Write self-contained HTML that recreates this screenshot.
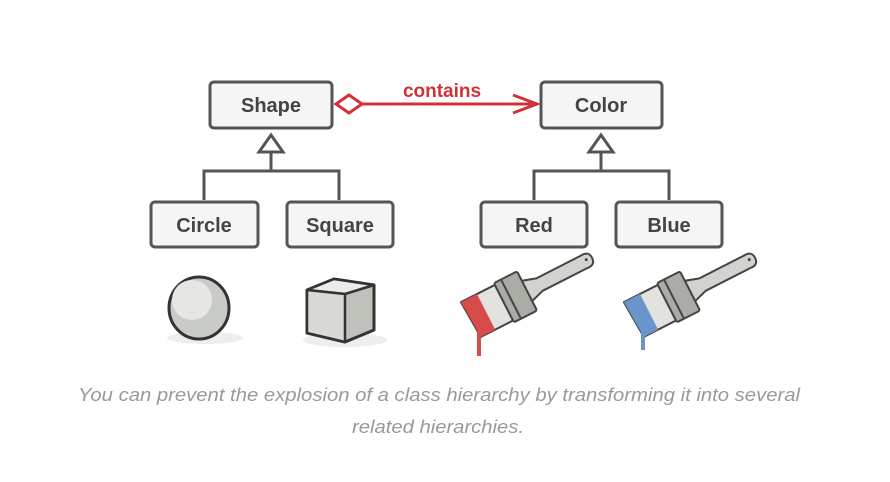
<!DOCTYPE html>
<html><head><meta charset="utf-8"><style>
html,body{margin:0;padding:0;background:#fff;width:890px;height:482px;overflow:hidden}
svg{display:block}
.b{fill:#f5f5f5;stroke:#555;stroke-width:3}
.t{font-family:"Liberation Sans",sans-serif;font-weight:bold;font-size:20px;fill:#444;text-anchor:middle}
.l{stroke:#555;stroke-width:3;fill:none}
.cap{font-family:"Liberation Sans",sans-serif;font-style:italic;font-size:18px;fill:#999;text-anchor:middle}
</style></head><body>
<svg width="890" height="482" viewBox="0 0 890 482">
<defs>
<g id="brush" stroke="#444" stroke-width="2" stroke-linejoin="round">
<path d="M62 -12L78 -7H128Q137 -8 137 0Q137 8 128 7H78L62 12Z" fill="#d2d3cf"/>
<circle cx="131" cy="-1" r="1.5" fill="#444" stroke="none"/>
<rect x="38" y="-22" width="26" height="44" rx="2" fill="#aaaca6"/>
<line x1="46" y1="-21" x2="46" y2="21"/>
<path d="M0 -20H38V20H2Z" fill="#e2e2df"/>
</g>
</defs>
<!-- connectors -->
<path class="l" d="M271 152V171M204 200V171H339V200"/>
<polygon points="271,135 259,152 283,152" fill="#fff" stroke="#555" stroke-width="3"/>
<path class="l" d="M601 152V171M534 200V171H669V200"/>
<polygon points="601,135 589,152 613,152" fill="#fff" stroke="#555" stroke-width="3"/>
<!-- boxes -->
<rect class="b" x="210" y="82" width="122" height="46" rx="4"/><text class="t" x="271" y="112">Shape</text>
<rect class="b" x="541" y="82" width="121" height="46" rx="4"/><text class="t" x="601" y="112">Color</text>
<rect class="b" x="151" y="202" width="107" height="45" rx="4"/><text class="t" x="204" y="232">Circle</text>
<rect class="b" x="287" y="202" width="106" height="45" rx="4"/><text class="t" x="340" y="232">Square</text>
<rect class="b" x="481" y="202" width="106" height="45" rx="4"/><text class="t" x="534" y="232">Red</text>
<rect class="b" x="616" y="202" width="106" height="45" rx="4"/><text class="t" x="669" y="232">Blue</text>
<!-- aggregation -->
<polygon points="336,104 349,95 362,104 349,113" fill="#fff" stroke="#d0323a" stroke-width="3"/>
<path d="M362 104H537M513 95L537 104L513 113" stroke="#d0323a" stroke-width="3" fill="none"/>
<text x="442" y="97" font-family="Liberation Sans,sans-serif" font-weight="bold" font-size="19" fill="#d0323a" text-anchor="middle">contains</text>
<!-- sphere -->
<ellipse cx="205" cy="338" rx="38" ry="6" fill="#eee"/>
<ellipse cx="199" cy="308" rx="30" ry="31" fill="#c9cbc6" stroke="#333" stroke-width="3"/>
<ellipse cx="192" cy="300" rx="20" ry="20" fill="#e6e7e4"/>
<!-- cube -->
<ellipse cx="345" cy="340" rx="42" ry="7" fill="#eee"/>
<polygon points="307,290 334,279 374,285 374,330 345,342 307,333" fill="#bfc1bb" stroke="#333" stroke-width="3" stroke-linejoin="round"/>
<polygon points="307,290 334,279 374,285 345,294" fill="#ececea" stroke="#333" stroke-width="2.5" stroke-linejoin="round"/>
<polygon points="307,290 345,294 345,342 307,333" fill="#d8d9d5" stroke="#333" stroke-width="2.5" stroke-linejoin="round"/>
<!-- red brush -->
<g transform="translate(470,320) rotate(-27)">
<use href="#brush"/>
<path d="M0 -20H18V20H2Z" fill="#d94a4a"/>
</g>
<rect x="477" y="332" width="4" height="24" fill="#d94a4a"/>
<!-- blue brush -->
<g transform="translate(633,320) rotate(-27)">
<use href="#brush"/>
<path d="M0 -20H18V20H2Z" fill="#6a95cc"/>
</g>
<rect x="641" y="332" width="4" height="18" fill="#6a95cc"/>
<!-- caption -->
<text class="cap" x="439" y="401" textLength="722" lengthAdjust="spacingAndGlyphs">You can prevent the explosion of a class hierarchy by transforming it into several</text>
<text class="cap" x="438" y="433" textLength="172" lengthAdjust="spacingAndGlyphs">related hierarchies.</text>
</svg>
</body></html>
